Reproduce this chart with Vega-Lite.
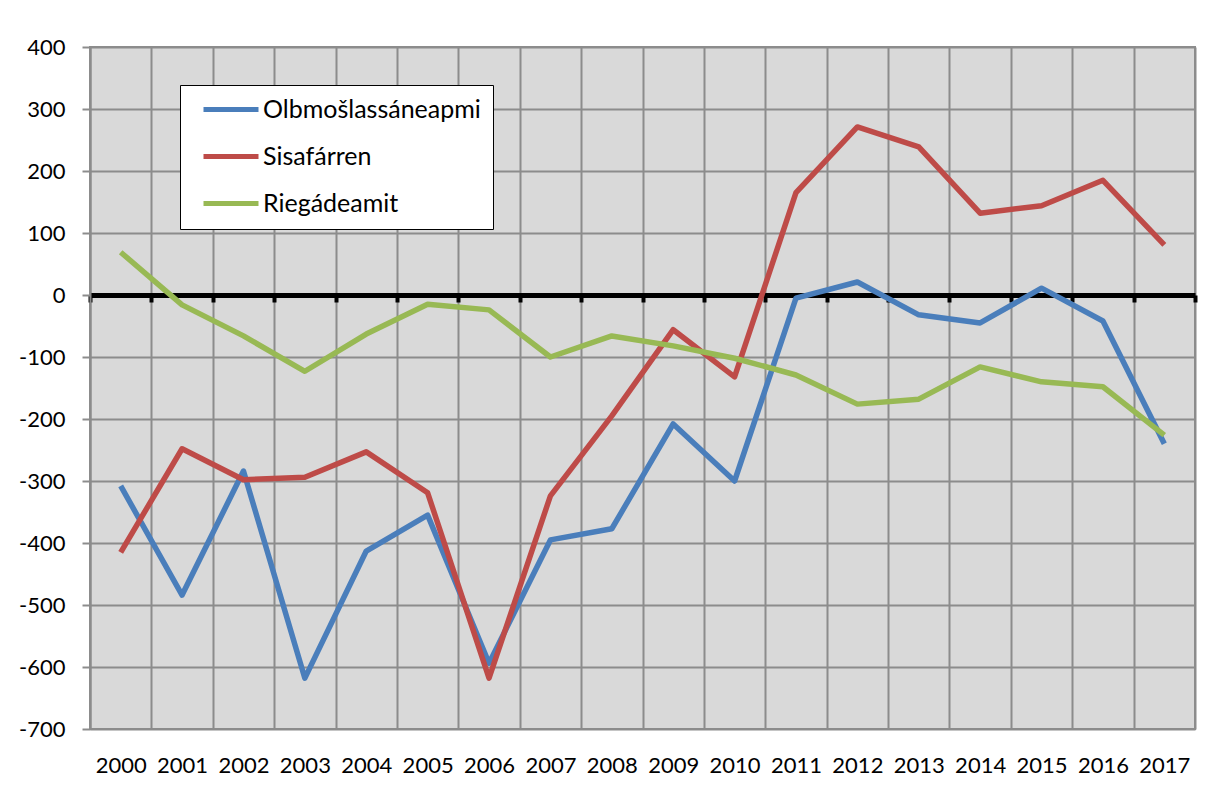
{
  "$schema": "https://vega.github.io/schema/vega-lite/v6.json",
  "width": 1105,
  "height": 682,
  "autosize": {"type": "none"},
  "padding": {"left": 90, "top": 47, "right": 13, "bottom": 58},
  "background": "white",
  "config": {
    "font": "Lato",
    "view": {"fill": "#d9d9d9", "stroke": "#8c8c8c", "strokeWidth": 2},
    "axis": {"labelFont": "Lato", "labelFontSize": 22, "labelColor": "black"}
  },
  "data": {
    "values": [
      {"year": "2000", "series": "Olbmošlassáneapmi", "value": -308},
      {"year": "2001", "series": "Olbmošlassáneapmi", "value": -484},
      {"year": "2002", "series": "Olbmošlassáneapmi", "value": -284},
      {"year": "2003", "series": "Olbmošlassáneapmi", "value": -618},
      {"year": "2004", "series": "Olbmošlassáneapmi", "value": -413},
      {"year": "2005", "series": "Olbmošlassáneapmi", "value": -355},
      {"year": "2006", "series": "Olbmošlassáneapmi", "value": -594},
      {"year": "2007", "series": "Olbmošlassáneapmi", "value": -395},
      {"year": "2008", "series": "Olbmošlassáneapmi", "value": -377},
      {"year": "2009", "series": "Olbmošlassáneapmi", "value": -208},
      {"year": "2010", "series": "Olbmošlassáneapmi", "value": -300},
      {"year": "2011", "series": "Olbmošlassáneapmi", "value": -5},
      {"year": "2012", "series": "Olbmošlassáneapmi", "value": 21},
      {"year": "2013", "series": "Olbmošlassáneapmi", "value": -32},
      {"year": "2014", "series": "Olbmošlassáneapmi", "value": -45},
      {"year": "2015", "series": "Olbmošlassáneapmi", "value": 11},
      {"year": "2016", "series": "Olbmošlassáneapmi", "value": -42},
      {"year": "2017", "series": "Olbmošlassáneapmi", "value": -240},
      {"year": "2000", "series": "Sisafárren", "value": -415},
      {"year": "2001", "series": "Sisafárren", "value": -248},
      {"year": "2002", "series": "Sisafárren", "value": -298},
      {"year": "2003", "series": "Sisafárren", "value": -294},
      {"year": "2004", "series": "Sisafárren", "value": -253},
      {"year": "2005", "series": "Sisafárren", "value": -319},
      {"year": "2006", "series": "Sisafárren", "value": -618},
      {"year": "2007", "series": "Sisafárren", "value": -324},
      {"year": "2008", "series": "Sisafárren", "value": -195},
      {"year": "2009", "series": "Sisafárren", "value": -56},
      {"year": "2010", "series": "Sisafárren", "value": -132},
      {"year": "2011", "series": "Sisafárren", "value": 165},
      {"year": "2012", "series": "Sisafárren", "value": 271},
      {"year": "2013", "series": "Sisafárren", "value": 239},
      {"year": "2014", "series": "Sisafárren", "value": 132},
      {"year": "2015", "series": "Sisafárren", "value": 144},
      {"year": "2016", "series": "Sisafárren", "value": 185},
      {"year": "2017", "series": "Sisafárren", "value": 81},
      {"year": "2000", "series": "Riegádeamit", "value": 69},
      {"year": "2001", "series": "Riegádeamit", "value": -16},
      {"year": "2002", "series": "Riegádeamit", "value": -66},
      {"year": "2003", "series": "Riegádeamit", "value": -123},
      {"year": "2004", "series": "Riegádeamit", "value": -63},
      {"year": "2005", "series": "Riegádeamit", "value": -15},
      {"year": "2006", "series": "Riegádeamit", "value": -24},
      {"year": "2007", "series": "Riegádeamit", "value": -100},
      {"year": "2008", "series": "Riegádeamit", "value": -66},
      {"year": "2009", "series": "Riegádeamit", "value": -82},
      {"year": "2010", "series": "Riegádeamit", "value": -102},
      {"year": "2011", "series": "Riegádeamit", "value": -129},
      {"year": "2012", "series": "Riegádeamit", "value": -176},
      {"year": "2013", "series": "Riegádeamit", "value": -168},
      {"year": "2014", "series": "Riegádeamit", "value": -116},
      {"year": "2015", "series": "Riegádeamit", "value": -140},
      {"year": "2016", "series": "Riegádeamit", "value": -148},
      {"year": "2017", "series": "Riegádeamit", "value": -226}
    ]
  },
  "resolve": {"axis": {"x": "independent", "y": "independent"}, "scale": {"x": "shared", "y": "shared"}},
  "layer": [
    {
      "mark": {"type": "line", "strokeWidth": 5.5, "strokeCap": "butt", "strokeJoin": "round"},
      "encoding": {
        "x": {
          "field": "year", "type": "ordinal", "bandPosition": 0.5,
          "scale": {"type": "band", "paddingInner": 0, "paddingOuter": 0},
          "axis": {
            "orient": "bottom", "title": null, "labelAngle": 0, "domain": false, "ticks": false,
            "tickBand": "extent", "grid": true, "gridColor": "#8c8c8c", "gridWidth": 2, "gridOpacity": 1,
            "labelPadding": 26
          }
        },
        "y": {
          "field": "value", "type": "quantitative",
          "scale": {"domain": [-700, 400], "nice": false, "zero": false},
          "axis": {
            "title": null, "values": [-700, -600, -500, -400, -300, -200, -100, 0, 100, 200, 300, 400],
            "labelExpr": "replace(datum.label, '\u2212', '-')",
            "grid": true, "gridColor": "#8c8c8c", "gridWidth": 2, "gridOpacity": 1,
            "domain": true, "domainColor": "#8c8c8c", "domainWidth": 2,
            "ticks": true, "tickColor": "#8c8c8c", "tickWidth": 2, "tickSize": 8,
            "labelPadding": 17
          }
        },
        "color": {
          "field": "series", "type": "nominal",
          "scale": {
            "domain": ["Olbmošlassáneapmi", "Sisafárren", "Riegádeamit"],
            "range": ["#4a7ebb", "#be4b48", "#98b954"]
          },
          "legend": {
            "title": null, "orient": "none", "legendX": 90, "legendY": 38,
            "fillColor": "white", "strokeColor": "black", "padding": 12,
            "symbolType": "M-0.105,0H5.684", "symbolSize": 361, "symbolStrokeWidth": 5,
            "labelFont": "Lato", "labelFontSize": 25, "labelColor": "black", "labelLimit": 0,
            "rowPadding": 21, "labelOffset": 46, "offset": 0
          }
        }
      }
    },
    {
      "mark": {"type": "line", "opacity": 0},
      "encoding": {
        "x": {
          "field": "year", "type": "ordinal", "bandPosition": 0.5,
          "scale": {"type": "band", "paddingInner": 0, "paddingOuter": 0},
          "axis": {
            "orient": "bottom", "offset": -434, "title": null, "labels": false, "grid": false,
            "tickBand": "extent", "domain": true, "domainColor": "black", "domainWidth": 5,
            "ticks": true, "tickColor": "black", "tickWidth": 4, "tickSize": 7
          }
        },
        "y": {"field": "value", "type": "quantitative", "axis": null}
      }
    }
  ]
}
